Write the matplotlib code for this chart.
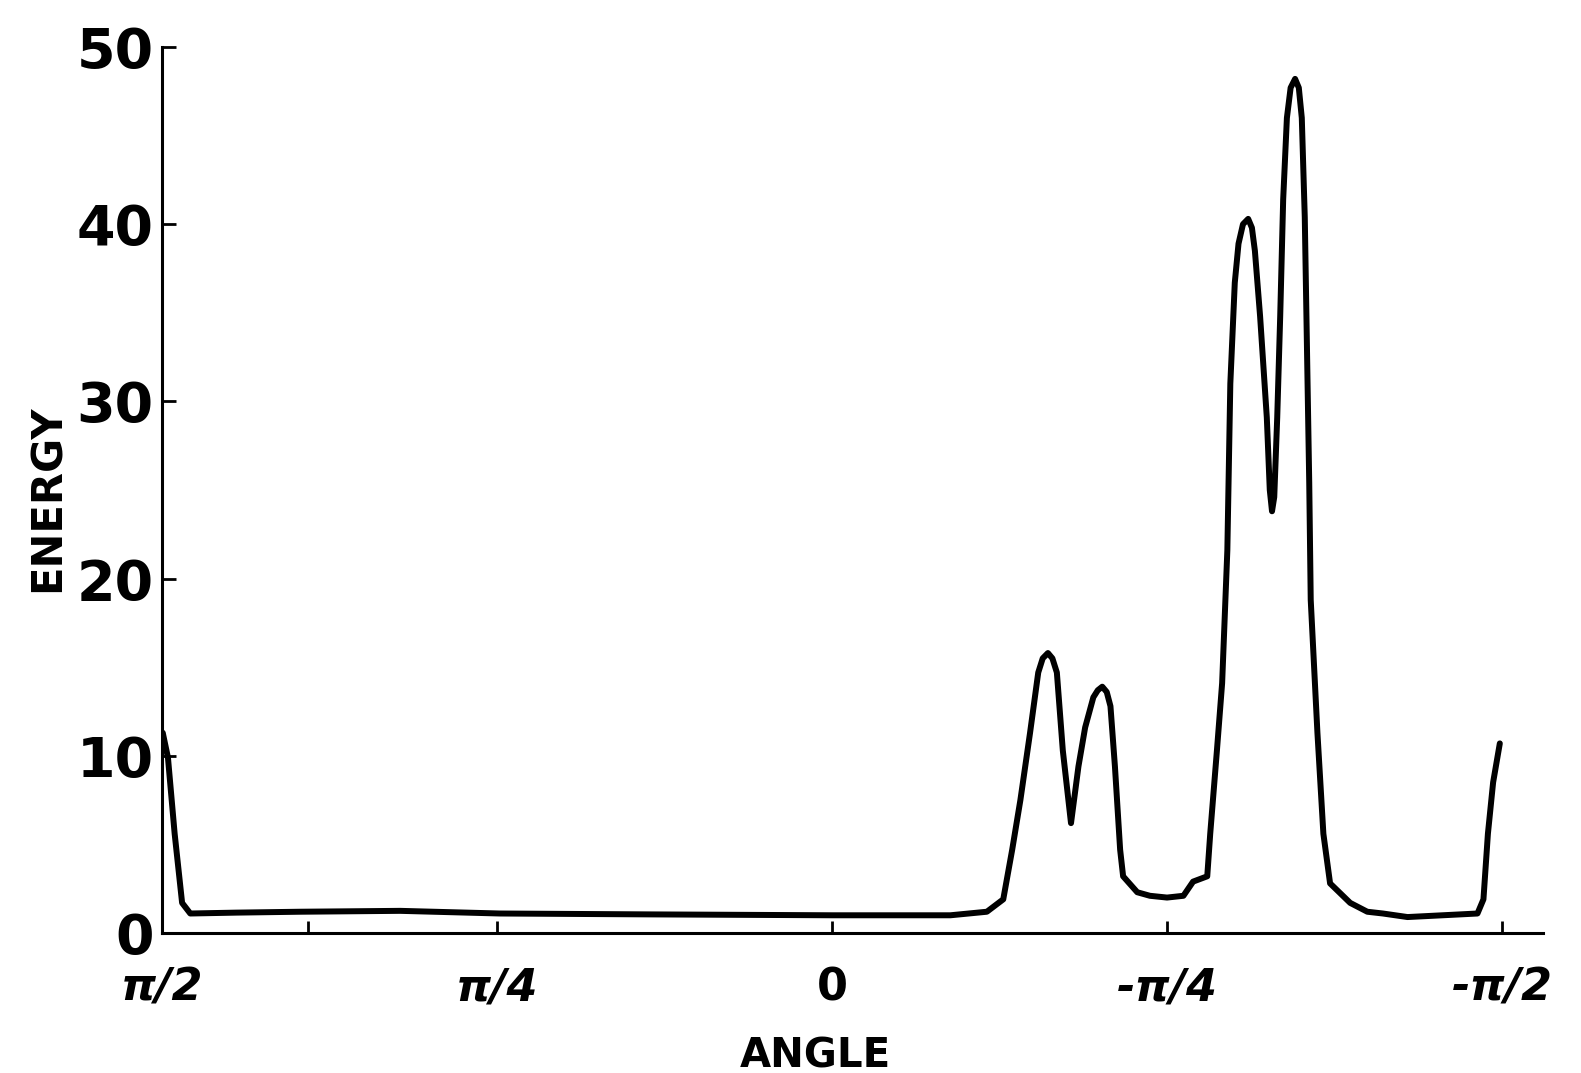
import matplotlib
matplotlib.use("Agg")
import matplotlib.pyplot as plt

# energy vs. angle (angle in degrees)
angle = [89.9, 89.2, 88.3, 87.3, 86.2, 80.0, 71.5, 58.0, 44.6, 24.4, 0.0,
         -15.9, -20.8, -23.0, -24.2, -25.3, -26.6, -27.7, -28.3, -29.0,
         -29.6, -30.2, -31.0, -32.1, -33.1, -34.0, -35.1, -35.7, -36.3,
         -36.9, -37.4, -38.0, -38.7, -39.1, -41.0, -42.7, -45.0, -47.2,
         -48.5, -50.4, -50.8, -51.7, -52.4, -53.1, -53.5, -54.1, -54.6,
         -55.2, -55.9, -56.4, -56.8, -57.5, -58.4, -58.8, -59.1, -59.4,
         -59.8, -60.2, -60.6, -61.1, -61.6, -62.2, -62.7, -63.1, -63.5,
         -63.8, -64.1, -64.3, -65.2, -66.0, -66.9, -69.6, -71.9, -74.0,
         -77.3, -86.7, -87.5, -88.1, -88.8, -89.7]
energy = [11.3, 9.9, 5.6, 1.7, 1.1, 1.15, 1.2, 1.25, 1.1, 1.05, 1.0,
          1.0, 1.2, 1.9, 4.7, 7.5, 11.3, 14.7, 15.5, 15.8,
          15.5, 14.7, 10.3, 6.2, 9.4, 11.6, 13.3, 13.7, 13.9,
          13.6, 12.8, 9.4, 4.7, 3.2, 2.3, 2.1, 2.0, 2.1,
          2.9, 3.2, 5.6, 10.3, 14.1, 21.6, 31.0, 36.7, 38.9,
          40.0, 40.3, 39.8, 38.5, 34.8, 29.1, 25.0, 23.8, 24.6,
          29.1, 34.8, 41.4, 46.0, 47.7, 48.2, 47.7, 46.0, 40.4,
          32.9, 25.4, 18.8, 11.3, 5.6, 2.8, 1.7, 1.2, 1.1,
          0.9, 1.1, 1.9, 5.6, 8.5, 10.7]

x_ticks = [90, 45, 0, -45, -90]
x_labels = ["π/2", "π/4", "0", "-π/4", "-π/2"]
y_ticks = [0, 10, 20, 30, 40, 50]

plt.rcParams["font.family"] = ["DejaVu Sans"]

W, H = 1581, 1073
fig = plt.figure(figsize=(W / 100, H / 100), dpi=100)
ax = fig.add_axes([162 / W, 1 - 933 / H, (1543 - 162) / W, (933 - 47) / H])

ax.plot(angle, energy, color="black", lw=4.3,
        solid_joinstyle="round", solid_capstyle="round")

ax.set_xlim(90, -95.5)
ax.set_ylim(0, 50)
for side in ("top", "right"):
    ax.spines[side].set_visible(False)
for side in ("left", "bottom"):
    ax.spines[side].set_linewidth(2.2)

ax.set_yticks(y_ticks)
ax.set_yticklabels([str(v) for v in y_ticks])
ax.set_xticks(x_ticks)
ax.set_xticklabels(x_labels)
ax.set_xticks([70.4], minor=True)
ax.tick_params(axis="y", direction="in", length=10, width=2, pad=6,
               labelsize=40)
ax.tick_params(axis="x", which="both", direction="in", length=9, width=2,
               pad=24, labelsize=32)
for lbl in ax.get_yticklabels():
    lbl.set_fontweight("bold")
for lbl in ax.get_xticklabels():
    lbl.set_fontweight("bold")
    if "π" in lbl.get_text():
        lbl.set_style("italic")

fig.text(48 / W, 1 - 498 / H, "ENERGY", rotation=90, ha="center",
         va="center", fontsize=30, fontweight="bold")
fig.text(815 / W, 1 - 1056 / H, "ANGLE", ha="center", va="center",
         fontsize=29, fontweight="bold")

fig.savefig("out.png", dpi=100, facecolor="white")
